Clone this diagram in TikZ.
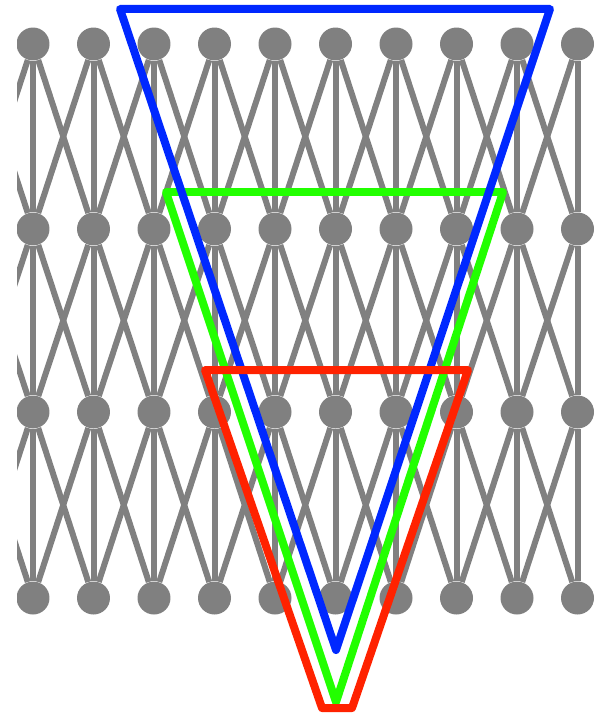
\documentclass[tikz,border=0pt]{standalone}
\definecolor{netgray}{RGB}{128,128,128}
\definecolor{rfblue}{RGB}{0,40,255}
\definecolor{rfgreen}{RGB}{34,255,0}
\definecolor{rfred}{RGB}{255,34,0}
\usepackage{tikz}

\begin{document}
\begin{tikzpicture}[x=0.02cm, y=-0.02cm,
    unit/.style={circle, fill=netgray, inner sep=0pt, minimum size=0.66cm},
    link/.style={draw=netgray, line width=0.12cm},
    field/.style={line width=0.16cm, line join=round}]
  \useasboundingbox (0,0) rectangle (603,716);
  % layers of units, clipped on the left
  \begin{scope}
    \clip (17,0) rectangle (603,716);
    \foreach \r/\y in {0/44,1/229,2/412,3/598}
      \foreach \c in {0,...,10}
        \node[unit] (n-\r-\c) at ({-27.5+60.5*\c},\y) {};
    \foreach \r in {0,1,2}
      \foreach \c in {0,...,10} {
        \pgfmathtruncatemacro{\s}{\r+1}
        \pgfmathtruncatemacro{\cl}{\c-1}
        \pgfmathtruncatemacro{\cr}{\c+1}
        \draw[link] (n-\r-\c) -- (n-\s-\c);
        \ifnum\c>0 \draw[link] (n-\r-\c) -- (n-\s-\cl); \fi
        \ifnum\c<10 \draw[link] (n-\r-\c) -- (n-\s-\cr); \fi
      }
  \end{scope}
  % receptive fields
  \draw[field, rfgreen] (166,192) -- (503,192) -- (336,702) -- cycle;
  \draw[field, rfblue] (120,9) -- (550,9) -- (336,650) -- cycle;
  \draw[field, rfred] (205,370) -- (468,370) -- (352,708) -- (322,708) -- cycle;
\end{tikzpicture}
\end{document}
